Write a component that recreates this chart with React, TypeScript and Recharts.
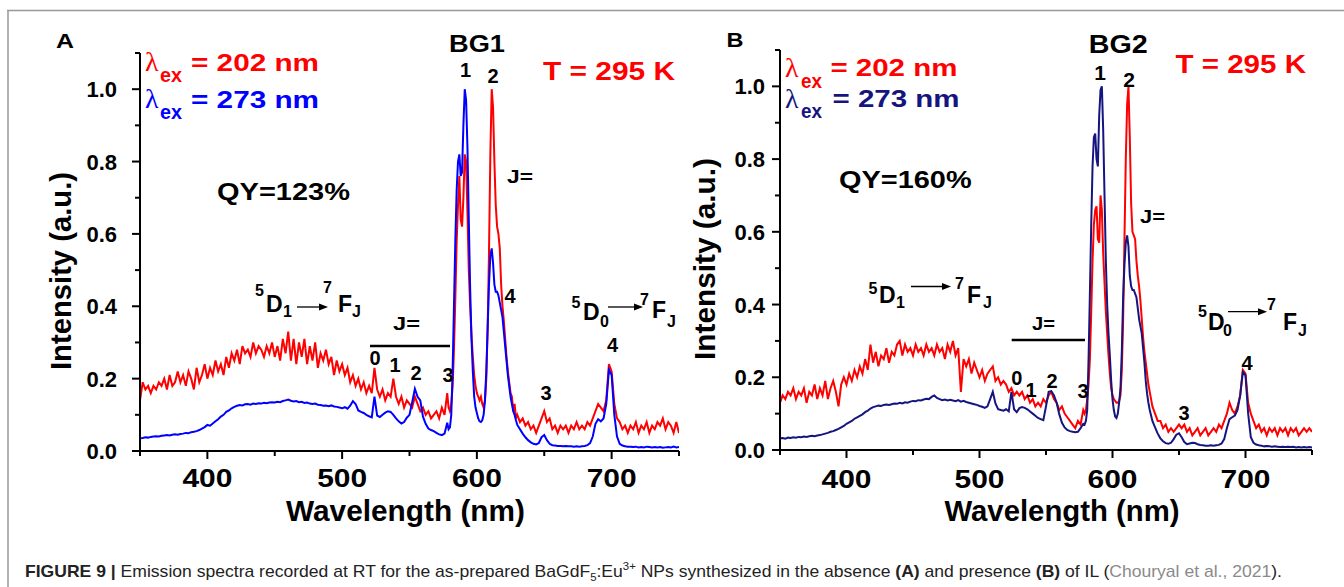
import React from 'react';
import { LineChart, Line, XAxis, YAxis } from 'recharts';

// wavelength grid (nm): 2 nm steps, 1 nm through the main 5D0 -> 7F1/7F2 peaks
const WL = [
  350, 352, 354, 356, 358, 360, 362, 364, 366, 368,
  370, 372, 374, 376, 378, 380, 382, 384, 386, 388,
  390, 392, 394, 396, 398, 400, 402, 404, 406, 408,
  410, 412, 414, 416, 418, 420, 422, 424, 426, 428,
  430, 432, 434, 436, 438, 440, 442, 444, 446, 448,
  450, 452, 454, 456, 458, 460, 462, 464, 466, 468,
  470, 472, 474, 476, 478, 480, 482, 484, 486, 488,
  490, 492, 494, 496, 498, 500, 502, 504, 506, 508,
  510, 512, 514, 516, 518, 520, 522, 524, 526, 528,
  530, 532, 534, 536, 538, 540, 542, 544, 546, 548,
  550, 552, 554, 556, 558, 560, 562, 564, 566, 568,
  570, 572, 574, 576, 578,
  579, 580, 581, 582, 583, 584, 585, 586, 587, 588,
  589, 590, 591, 592, 593, 594, 595, 596, 597, 598,
  599, 600, 601, 602, 603, 604, 605, 606, 607, 608,
  609, 610, 611, 612, 613, 614, 615, 616, 617, 618,
  619, 620, 621, 622, 623, 624, 625, 626, 627, 628,
  629, 630,
  632, 634, 636, 638, 640, 642, 644, 646, 648, 650,
  652, 654, 656, 658, 660, 662, 664, 666, 668, 670,
  672, 674, 676, 678, 680, 682, 684, 686, 688, 690,
  692, 694, 696, 698, 700, 702, 704, 706, 708, 710,
  712, 714, 716, 718, 720, 722, 724, 726, 728, 730,
  732, 734, 736, 738, 740, 742, 744, 746, 748, 750,
];

// panel A (BG1), excitation 202 nm
const RED_A = [
  0.14, 0.19, 0.17, 0.18, 0.16, 0.18, 0.17, 0.19, 0.18, 0.20,
  0.17, 0.21, 0.18, 0.19, 0.22, 0.19, 0.21, 0.18, 0.22, 0.20,
  0.17, 0.23, 0.19, 0.21, 0.24, 0.20, 0.23, 0.21, 0.25, 0.22,
  0.24, 0.21, 0.26, 0.23, 0.27, 0.25, 0.28, 0.24, 0.29, 0.27,
  0.28, 0.26, 0.30, 0.27, 0.29, 0.28, 0.26, 0.29, 0.27, 0.30,
  0.26, 0.29, 0.25, 0.31, 0.27, 0.33, 0.25, 0.31, 0.24, 0.30,
  0.26, 0.31, 0.24, 0.29, 0.25, 0.30, 0.23, 0.27, 0.25, 0.28,
  0.24, 0.26, 0.21, 0.25, 0.22, 0.24, 0.21, 0.23, 0.19, 0.21,
  0.18, 0.20, 0.17, 0.19, 0.16, 0.18, 0.16, 0.23, 0.17, 0.15,
  0.17, 0.14, 0.16, 0.15, 0.20, 0.15, 0.13, 0.15, 0.12, 0.14,
  0.13, 0.12, 0.15, 0.13, 0.11, 0.12, 0.10, 0.11, 0.09, 0.10,
  0.11, 0.09, 0.12, 0.10, 0.16,
  0.12, 0.11, 0.13, 0.18, 0.28, 0.42, 0.58, 0.68, 0.76, 0.64,
  0.62, 0.70, 0.82, 0.80, 0.66, 0.50, 0.40, 0.32, 0.26, 0.21,
  0.18, 0.16, 0.15, 0.14, 0.15, 0.13, 0.12, 0.14, 0.20, 0.34,
  0.55, 0.82, 1.00, 0.95, 0.80, 0.68, 0.62, 0.60, 0.56, 0.46,
  0.40, 0.36, 0.31, 0.26, 0.22, 0.19, 0.16, 0.15, 0.11, 0.13,
  0.09, 0.10,
  0.08, 0.09, 0.07, 0.08, 0.06, 0.07, 0.05, 0.07, 0.09, 0.11,
  0.08, 0.09, 0.06, 0.07, 0.05, 0.07, 0.06, 0.07, 0.05, 0.07,
  0.06, 0.08, 0.06, 0.07, 0.06, 0.08, 0.07, 0.09, 0.11, 0.13,
  0.12, 0.11, 0.14, 0.24, 0.22, 0.13, 0.09, 0.08, 0.06, 0.07,
  0.05, 0.07, 0.06, 0.08, 0.05, 0.07, 0.06, 0.08, 0.05, 0.07,
  0.06, 0.08, 0.07, 0.09, 0.06, 0.08, 0.07, 0.05, 0.08, 0.05,
];

// panel A (BG1), excitation 273 nm
const BLUE_A = [
  0.035, 0.036, 0.038, 0.037, 0.039, 0.040, 0.041, 0.040, 0.042, 0.043,
  0.044, 0.043, 0.045, 0.046, 0.045, 0.047, 0.048, 0.050, 0.049, 0.052,
  0.053, 0.055, 0.058, 0.062, 0.066, 0.072, 0.070, 0.076, 0.082, 0.088,
  0.095, 0.100, 0.108, 0.112, 0.118, 0.122, 0.125, 0.127, 0.126, 0.129,
  0.130, 0.128, 0.131, 0.130, 0.132, 0.131, 0.133, 0.132, 0.134, 0.135,
  0.134, 0.136, 0.135, 0.138, 0.140, 0.142, 0.139, 0.137, 0.138, 0.135,
  0.136, 0.133, 0.134, 0.131, 0.130, 0.131, 0.128, 0.127, 0.125, 0.126,
  0.124, 0.126, 0.123, 0.122, 0.120, 0.118, 0.121, 0.117, 0.125, 0.138,
  0.130, 0.112, 0.108, 0.105, 0.100, 0.096, 0.093, 0.150, 0.098, 0.094,
  0.100, 0.106, 0.110, 0.108, 0.100, 0.090, 0.082, 0.076, 0.080, 0.092,
  0.100, 0.135, 0.172, 0.150, 0.140, 0.095, 0.075, 0.062, 0.058, 0.055,
  0.050, 0.046, 0.044, 0.048, 0.078,
  0.060, 0.065, 0.10, 0.22, 0.40, 0.58, 0.72, 0.80, 0.82, 0.76,
  0.77, 0.90, 1.00, 0.97, 0.84, 0.64, 0.45, 0.31, 0.22, 0.15,
  0.12, 0.105, 0.09, 0.082, 0.080, 0.085, 0.10, 0.14, 0.22, 0.34,
  0.46, 0.54, 0.56, 0.52, 0.46, 0.44, 0.44, 0.43, 0.41, 0.39,
  0.37, 0.33, 0.29, 0.25, 0.21, 0.18, 0.15, 0.13, 0.11, 0.10,
  0.085, 0.072,
  0.060, 0.048, 0.038, 0.030, 0.024, 0.020, 0.018, 0.022, 0.038, 0.044,
  0.030, 0.020, 0.016, 0.015, 0.014, 0.014, 0.013, 0.014, 0.013, 0.013,
  0.012, 0.013, 0.012, 0.013, 0.014, 0.016, 0.022, 0.040, 0.075, 0.088,
  0.082, 0.090, 0.130, 0.225, 0.210, 0.100, 0.040, 0.020, 0.015, 0.013,
  0.012, 0.012, 0.011, 0.012, 0.010, 0.011, 0.010, 0.012, 0.011, 0.010,
  0.011, 0.010, 0.011, 0.009, 0.010, 0.011, 0.010, 0.012, 0.010, 0.011,
];

// panel B (BG2), excitation 202 nm
const RED_B = [
  0.13, 0.15, 0.14, 0.16, 0.15, 0.17, 0.14, 0.16, 0.15, 0.17,
  0.13, 0.16, 0.15, 0.18, 0.14, 0.17, 0.15, 0.19, 0.14, 0.17,
  0.19, 0.16, 0.12, 0.18, 0.20, 0.18, 0.21, 0.19, 0.22, 0.20,
  0.23, 0.21, 0.25, 0.22, 0.29, 0.24, 0.27, 0.23, 0.26, 0.25,
  0.28, 0.24, 0.27, 0.26, 0.29, 0.30, 0.26, 0.29, 0.27, 0.28,
  0.26, 0.29, 0.27, 0.28, 0.26, 0.29, 0.27, 0.28, 0.26, 0.29,
  0.27, 0.28, 0.25, 0.29, 0.27, 0.30, 0.26, 0.28, 0.16, 0.25,
  0.23, 0.25, 0.21, 0.24, 0.22, 0.20, 0.22, 0.19, 0.21, 0.22,
  0.23, 0.19, 0.20, 0.18, 0.19, 0.18, 0.16, 0.17, 0.15, 0.16,
  0.15, 0.16, 0.14, 0.15, 0.13, 0.14, 0.12, 0.13, 0.12, 0.14,
  0.13, 0.15, 0.16, 0.14, 0.13, 0.11, 0.12, 0.10, 0.09, 0.08,
  0.07, 0.06, 0.08, 0.07, 0.11,
  0.10, 0.11, 0.14, 0.18, 0.25, 0.38, 0.52, 0.62, 0.66, 0.67,
  0.58, 0.57, 0.70, 0.66, 0.54, 0.46, 0.38, 0.32, 0.26, 0.21,
  0.17, 0.15, 0.14, 0.135, 0.13, 0.13, 0.135, 0.15, 0.22, 0.36,
  0.58, 0.80, 0.95, 1.00, 0.86, 0.68, 0.60, 0.59, 0.58, 0.52,
  0.48, 0.45, 0.41, 0.36, 0.31, 0.27, 0.24, 0.21, 0.18, 0.16,
  0.14, 0.12,
  0.10, 0.08, 0.08, 0.06, 0.07, 0.05, 0.06, 0.05, 0.06, 0.07,
  0.06, 0.07, 0.05, 0.06, 0.04, 0.05, 0.06, 0.04, 0.05, 0.06,
  0.04, 0.05, 0.06, 0.05, 0.07, 0.06, 0.08, 0.10, 0.13, 0.11,
  0.10, 0.12, 0.15, 0.22, 0.21, 0.13, 0.10, 0.08, 0.06, 0.07,
  0.05, 0.06, 0.04, 0.06, 0.05, 0.06, 0.04, 0.06, 0.05, 0.06,
  0.04, 0.06, 0.05, 0.06, 0.04, 0.05, 0.06, 0.05, 0.06, 0.05,
];

// panel B (BG2), excitation 273 nm
const NAVY_B = [
  0.032, 0.033, 0.031, 0.034, 0.033, 0.035, 0.034, 0.036, 0.035, 0.037,
  0.036, 0.038, 0.039, 0.038, 0.040, 0.041, 0.043, 0.045, 0.047, 0.050,
  0.052, 0.055, 0.058, 0.062, 0.066, 0.072, 0.076, 0.080, 0.086, 0.090,
  0.094, 0.098, 0.104, 0.108, 0.114, 0.118, 0.120, 0.122, 0.121, 0.124,
  0.125, 0.124, 0.126, 0.128, 0.127, 0.130, 0.128, 0.131, 0.130, 0.133,
  0.135, 0.134, 0.137, 0.136, 0.139, 0.141, 0.140, 0.146, 0.150, 0.143,
  0.140, 0.137, 0.139, 0.136, 0.138, 0.136, 0.134, 0.137, 0.133, 0.135,
  0.132, 0.130, 0.128, 0.126, 0.124, 0.121, 0.119, 0.116, 0.120, 0.140,
  0.160, 0.128, 0.112, 0.110, 0.108, 0.112, 0.106, 0.160, 0.112, 0.104,
  0.115, 0.118, 0.116, 0.112, 0.106, 0.100, 0.094, 0.088, 0.085, 0.082,
  0.120, 0.160, 0.162, 0.150, 0.130, 0.098, 0.075, 0.062, 0.055, 0.052,
  0.050, 0.049, 0.050, 0.060, 0.072,
  0.070, 0.080, 0.11, 0.25, 0.43, 0.62, 0.78, 0.86, 0.87, 0.80,
  0.78, 0.92, 0.99, 1.00, 0.88, 0.70, 0.52, 0.40, 0.32, 0.26,
  0.19, 0.14, 0.11, 0.092, 0.088, 0.10, 0.13, 0.17, 0.27, 0.42,
  0.51, 0.57, 0.59, 0.56, 0.48, 0.45, 0.44, 0.44, 0.43, 0.42,
  0.39, 0.36, 0.34, 0.32, 0.28, 0.24, 0.19, 0.155, 0.13, 0.11,
  0.095, 0.080,
  0.062, 0.045, 0.032, 0.024, 0.019, 0.017, 0.020, 0.030, 0.042, 0.046,
  0.035, 0.022, 0.016, 0.018, 0.020, 0.019, 0.016, 0.014, 0.013, 0.012,
  0.012, 0.013, 0.012, 0.013, 0.014, 0.018, 0.030, 0.060, 0.085, 0.090,
  0.095, 0.110, 0.150, 0.215, 0.205, 0.100, 0.035, 0.020, 0.015, 0.013,
  0.012, 0.010, 0.011, 0.010, 0.009, 0.010, 0.009, 0.008, 0.009, 0.008,
  0.009, 0.008, 0.009, 0.007, 0.008, 0.007, 0.008, 0.007, 0.008, 0.007,
];

const X_TICKS = [350, 400, 450, 500, 550, 600, 650, 700, 750];
const Y_TICKS = [0, 0.1, 0.2, 0.3, 0.4, 0.5, 0.6, 0.7, 0.8, 0.9, 1.0, 1.1];

const dataA = WL.map((wl, i) => ({ wl, red: RED_A[i], blue: BLUE_A[i] }));
const dataB = WL.map((wl, i) => ({ wl, red: RED_B[i], blue: NAVY_B[i] }));

const FONT = '"Liberation Sans", Arial, Helvetica, sans-serif';
const SERIF = '"Liberation Serif", "DejaVu Serif", serif';
const RED = '#ff0000';
const BLUE = '#0000ff';
const NAVY = '#151580';

const makeXTick = (labelDy: number) => (props: any) => {
  const { x, y, payload } = props;
  const major = payload.value % 100 === 0;
  return (
    <g>
      <line x1={x} x2={x} y1={y} y2={y + (major ? 8 : 5)} stroke="#000" strokeWidth={2} />
      {major && (
        <text x={x} y={y + labelDy} textAnchor="middle" fontFamily={FONT} fontWeight="bold"
          fontSize={26} textLength={50} lengthAdjust="spacingAndGlyphs" fill="#000">
          {payload.value}
        </text>
      )}
    </g>
  );
};

const makeYTick = (labelDx: number) => (props: any) => {
  const { x, y, payload } = props;
  const major = Math.round(payload.value * 10) % 2 === 0;
  return (
    <g>
      <line x1={x} x2={x - (major ? 8 : 5)} y1={y} y2={y} stroke="#000" strokeWidth={2} />
      {major && (
        <text x={x - labelDx} y={y + 8} textAnchor="end" fontFamily={FONT} fontWeight="bold"
          fontSize={22} fill="#000">
          {payload.value.toFixed(1)}
        </text>
      )}
    </g>
  );
};

function Panel({ data, left, width, height, margin, yWidth, xHeight, blue, xLabelDy, yLabelDx }: any) {
  return (
    <div style={{ position: 'absolute', left, top: 0 }}>
      <LineChart width={width} height={height} data={data} margin={margin}>
        <XAxis type="number" dataKey="wl" domain={[350, 750]} ticks={X_TICKS} interval={0}
          height={xHeight} tickSize={0} tickMargin={0} tickLine={false} allowDataOverflow
          axisLine={{ stroke: '#000', strokeWidth: 2 }} tick={makeXTick(xLabelDy)} />
        <YAxis type="number" domain={[0, 1.1]} ticks={Y_TICKS} interval={0}
          width={yWidth} tickSize={0} tickMargin={0} tickLine={false} allowDataOverflow
          axisLine={{ stroke: '#000', strokeWidth: 2 }} tick={makeYTick(yLabelDx)} />
        <Line type="linear" dataKey="red" stroke={RED} strokeWidth={2} dot={false} isAnimationActive={false} />
        <Line type="linear" dataKey="blue" stroke={blue} strokeWidth={2} dot={false} isAnimationActive={false} />
      </LineChart>
    </div>
  );
}

function T({ x, y, s, w, c = '#000', a = 'start', b = true, children }: any) {
  return (
    <text x={x} y={y} fontSize={s} fill={c} textAnchor={a} fontWeight={b ? 'bold' : 'normal'}
      fontFamily={FONT} textLength={w} lengthAdjust={w ? 'spacingAndGlyphs' : undefined}>
      {children}
    </text>
  );
}

function Lambda({ x, y, c }: any) {
  return <text x={x} y={y} fontSize={28} fill={c} fontFamily={SERIF}>λ</text>;
}

function Arrow({ x1, x2, y }: any) {
  return (
    <g>
      <line x1={x1} x2={x2 - 6} y1={y} y2={y} stroke="#000" strokeWidth={1.3} />
      <polygon points={`${x2},${y} ${x2 - 9},${y - 3.5} ${x2 - 9},${y + 3.5}`} fill="#000" />
    </g>
  );
}

// 5D -> 7FJ transition label
function Transition({ p }: any) {
  return (
    <g>
      <T x={p.x5} y={p.b5} s={16}>5</T>
      <T x={p.xD} y={p.bD} s={23}>D</T>
      <T x={p.xs} y={p.bs} s={16}>{p.sub}</T>
      <Arrow x1={p.a1} x2={p.a2} y={p.ay} />
      <T x={p.x7} y={p.b7} s={16}>7</T>
      <T x={p.xF} y={p.bF} s={23}>F</T>
      <T x={p.xJ} y={p.bJ} s={16}>J</T>
    </g>
  );
}

export default function App() {
  return (
    <div style={{ position: 'absolute', left: 0, top: 0, width: 1344, height: 587, background: '#fff', overflow: 'hidden' }}>
      <Panel data={dataA} left={0} width={700} height={540}
        margin={{ top: 53, right: 21, bottom: 0, left: 0 }} yWidth={140} xHeight={89}
        blue={BLUE} xLabelDy={36} yLabelDx={23} />
      <Panel data={dataB} left={680} width={664} height={540}
        margin={{ top: 50, right: 32, bottom: 0, left: 0 }} yWidth={100} xHeight={90}
        blue={NAVY} xLabelDy={38} yLabelDx={15} />

      <svg width={1344} height={587} style={{ position: 'absolute', left: 0, top: 0, pointerEvents: 'none' }}>
        <line x1={7} y1={10.5} x2={1344} y2={10.5} stroke="#999" strokeWidth={1.5} />
        <line x1={8} y1={10} x2={8} y2={587} stroke="#999" strokeWidth={1.5} />

        {/* panel A */}
        <T x={56} y={48} s={20} w={18}>A</T>
        <T x={449} y={52} s={24} w={56}>BG1</T>
        <Lambda x={145} y={71} c={RED} />
        <T x={160} y={82} s={20} w={22} c={RED}>ex</T>
        <T x={191} y={70.6} s={24} w={128} c={RED}>= 202 nm</T>
        <Lambda x={145} y={108} c={BLUE} />
        <T x={160} y={119} s={20} w={22} c={BLUE}>ex</T>
        <T x={191} y={108} s={24} w={128} c={BLUE}>= 273 nm</T>
        <T x={543} y={80} s={26} w={132} c={RED}>T = 295 K</T>
        <T x={217} y={200} s={24} w={133}>QY=123%</T>
        <T x={465.5} y={77} s={20} a="middle">1</T>
        <T x={493} y={83} s={20} a="middle">2</T>
        <T x={507} y={183} s={19} w={26}>J=</T>
        <T x={510} y={303} s={20} a="middle">4</T>
        <T x={393} y={330} s={19} w={27}>J=</T>
        <line x1={370} x2={450} y1={346} y2={346} stroke="#000" strokeWidth={2.5} />
        <T x={375} y={365} s={20} a="middle">0</T>
        <T x={395} y={372} s={20} a="middle">1</T>
        <T x={416} y={380} s={20} a="middle">2</T>
        <T x={448} y={382} s={20} a="middle">3</T>
        <T x={546} y={400} s={20} a="middle">3</T>
        <T x={612.5} y={352} s={20} a="middle">4</T>
        <Transition p={{ x5: 255, b5: 296, xD: 266, bD: 312, xs: 283, bs: 317, sub: '1', a1: 297, a2: 328, ay: 307, x7: 323, b7: 293, xF: 338, bF: 312, xJ: 352, bJ: 317 }} />
        <Transition p={{ x5: 571.5, b5: 308, xD: 583, bD: 320, xs: 600, bs: 327, sub: '0', a1: 608, a2: 643, ay: 307, x7: 640, b7: 305, xF: 652, bF: 318, xJ: 667, bJ: 327 }} />
        <T x={405.5} y={521} s={29} w={239} a="middle">Wavelength (nm)</T>
        <g transform="rotate(-90 71 271)">
          <T x={71} y={271} s={29} w={198} a="middle">Intensity (a.u.)</T>
        </g>

        {/* panel B */}
        <T x={726.6} y={46.5} s={21} w={17}>B</T>
        <T x={1088.7} y={53} s={25} w={59}>BG2</T>
        <Lambda x={785} y={77} c={RED} />
        <T x={801} y={88} s={20} w={21} c={RED}>ex</T>
        <T x={830.4} y={75.8} s={24} w={127} c={RED}>= 202 nm</T>
        <Lambda x={785} y={108} c={NAVY} />
        <T x={801} y={118} s={20} w={21} c={NAVY}>ex</T>
        <T x={832.5} y={106.7} s={24} w={127} c={NAVY}>= 273 nm</T>
        <T x={1175.5} y={73} s={26} w={130.5} c={RED}>T = 295 K</T>
        <T x={839} y={188} s={24} w={132.6}>QY=160%</T>
        <T x={1100} y={80} s={21} a="middle">1</T>
        <T x={1129} y={87} s={21} a="middle">2</T>
        <T x={1140} y={223} s={19} w={25}>J=</T>
        <T x={1032} y={330} s={19} w={23}>J=</T>
        <line x1={1011.7} x2={1085} y1={340} y2={340} stroke="#000" strokeWidth={2.5} />
        <T x={1016.7} y={385} s={20} a="middle">0</T>
        <T x={1031} y={397} s={20} a="middle">1</T>
        <T x={1052} y={388} s={20} a="middle">2</T>
        <T x={1083} y={398} s={20} a="middle">3</T>
        <T x={1184} y={420} s={20} a="middle">3</T>
        <T x={1247} y={370} s={20} a="middle">4</T>
        <Transition p={{ x5: 868.5, b5: 294, xD: 879, bD: 303, xs: 896, bs: 308, sub: '1', a1: 911, a2: 951, ay: 286.5, x7: 955, b7: 289, xF: 967, bF: 303, xJ: 983, bJ: 308 }} />
        <Transition p={{ x5: 1198, b5: 317, xD: 1208, bD: 330, xs: 1223, bs: 336, sub: '0', a1: 1228, a2: 1267, ay: 311.7, x7: 1267, b7: 310, xF: 1283, bF: 330, xJ: 1298, bJ: 336 }} />
        <T x={1062} y={521} s={29} w={235} a="middle">Wavelength (nm)</T>
        <g transform="rotate(-90 714.5 259)">
          <T x={714.5} y={259} s={29} w={202} a="middle">Intensity (a.u.)</T>
        </g>

        {/* caption */}
        <text x={25} y={577} fontSize={17} fontFamily={FONT} fill="#222" textLength={1257} lengthAdjust="spacingAndGlyphs">
          <tspan fontWeight="bold">{'FIGURE 9 | '}</tspan>
          <tspan>{'Emission spectra recorded at RT for the as-prepared BaGdF'}</tspan>
          <tspan fontSize={11} dy={4}>{'5'}</tspan>
          <tspan dy={-4}>{':Eu'}</tspan>
          <tspan fontSize={11} dy={-7}>{'3+'}</tspan>
          <tspan dy={7}>{' NPs synthesized in the absence '}</tspan>
          <tspan fontWeight="bold">{'(A)'}</tspan>
          <tspan>{' and presence '}</tspan>
          <tspan fontWeight="bold">{'(B)'}</tspan>
          <tspan>{' of IL ('}</tspan>
          <tspan fill="#8a8a8a">{'Chouryal et al., 2021'}</tspan>
          <tspan>{').'}</tspan>
        </text>
      </svg>
    </div>
  );
}
